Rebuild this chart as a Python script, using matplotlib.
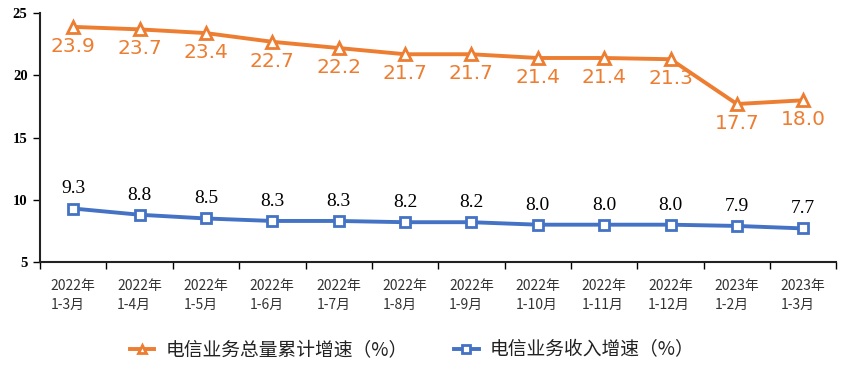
import matplotlib.pyplot as plt

plt.rcParams['font.family'] = ['Noto Sans CJK SC', 'DejaVu Sans']

# data
periods = ['2022年\n1-3月', '2022年\n1-4月', '2022年\n1-5月', '2022年\n1-6月',
           '2022年\n1-7月', '2022年\n1-8月', '2022年\n1-9月', '2022年\n1-10月',
           '2022年\n1-11月', '2022年\n1-12月', '2023年\n1-2月', '2023年\n1-3月']
volume_growth = [23.9, 23.7, 23.4, 22.7, 22.2, 21.7, 21.7, 21.4, 21.4, 21.3, 17.7, 18.0]
revenue_growth = [9.3, 8.8, 8.5, 8.3, 8.3, 8.2, 8.2, 8.0, 8.0, 8.0, 7.9, 7.7]
y_ticks = [5, 10, 15, 20, 25]

orange = '#ED7D31'
blue = '#4472C4'

fig = plt.figure(figsize=(8.41, 3.77), dpi=100)
ax = fig.add_axes([0.0476, 0.305, 0.947, 0.66])

x = list(range(len(periods)))
ax.plot(x, volume_growth, color=orange, lw=2.8, marker='^', markersize=8,
        markerfacecolor='white', markeredgecolor=orange, markeredgewidth=2,
        label='电信业务总量累计增速（%）')
ax.plot(x, revenue_growth, color=blue, lw=2.8, marker='s', markersize=7,
        markerfacecolor='white', markeredgecolor=blue, markeredgewidth=2,
        label='电信业务收入增速（%）')

for xi, v in zip(x, volume_growth):
    ax.annotate(f'{v:.1f}', (xi, v), xytext=(0, -7), textcoords='offset points',
                ha='center', va='top', color=orange, fontsize=14.5,
                family='DejaVu Sans')
for xi, v in zip(x, revenue_growth):
    ax.annotate(f'{v:.1f}', (xi, v), xytext=(0, 8), textcoords='offset points',
                ha='center', va='bottom', color='black', fontsize=14,
                family='Liberation Serif')

ax.set_xlim(-0.5, len(periods) - 0.5)
ax.set_ylim(5, 25)
ax.set_yticks(y_ticks)
ax.set_yticklabels([str(t) for t in y_ticks], family='Liberation Serif',
                   fontsize=10.5, fontweight='bold')
ax.set_xticks([i - 0.5 for i in range(len(periods) + 1)], minor=False)
ax.set_xticklabels([''] * (len(periods) + 1))
ax.set_xticks(x, minor=True)
ax.set_xticklabels(periods, minor=True, fontsize=10, color='#333333',
                   multialignment='left', linespacing=1.5)
ax.tick_params(axis='x', which='minor', length=0, pad=12)
ax.tick_params(axis='x', which='major', length=5, width=1, direction='out')
ax.tick_params(axis='y', length=5, width=1, direction='out', pad=4)

for s in ['top', 'right']:
    ax.spines[s].set_visible(False)
for s in ['left', 'bottom']:
    ax.spines[s].set_linewidth(1.5)
    ax.spines[s].set_color('#222222')

leg = fig.legend(loc='lower center', bbox_to_anchor=(0.49, 0.0), ncol=2,
                 frameon=False, fontsize=13.5, handlelength=1.3,
                 columnspacing=2.5, markerscale=0.75, handletextpad=0.6)
for t in leg.get_texts():
    t.set_color('#222222')

fig.savefig('out.png', dpi=100)
